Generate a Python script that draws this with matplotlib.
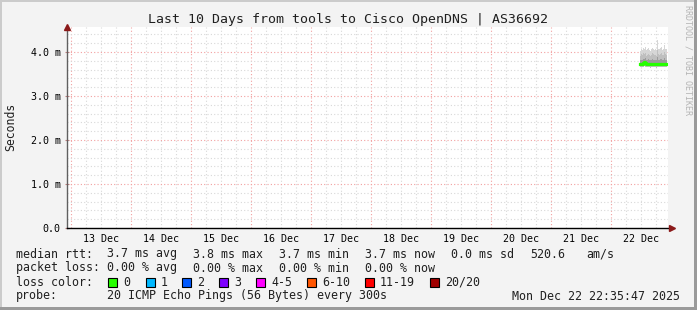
import datetime as dt
import numpy as np
import matplotlib
matplotlib.use("Agg")
import matplotlib.pyplot as plt
from matplotlib.patches import Rectangle

plt.rcParams["font.family"] = "DejaVu Sans Mono"

# time range of the graph
t_start = dt.datetime(2025, 12, 12, 22, 35, 47)
t_end = dt.datetime(2025, 12, 22, 22, 35, 47)

# smoke columns (23 min each), values in ms
col_start = dt.datetime(2025, 12, 22, 11, 36)
col_minutes = 23
rtt_max = [4.02, 4.08, 4.05, 4.10, 4.06, 4.12, 4.04, 4.07, 4.09, 4.05, 4.03, 4.06, 4.10, 4.08,
           4.05, 4.07, 4.04, 4.28, 4.08, 4.06, 4.09, 4.12, 4.05, 4.07, 4.06, 4.15, 4.08, 4.06]
rtt_p85 = [3.92, 3.95, 3.93, 3.97, 3.95, 3.98, 3.92, 3.94, 3.96, 3.93, 3.91, 3.94, 3.97, 3.95,
           3.93, 3.94, 3.92, 4.05, 3.95, 3.93, 3.96, 3.98, 3.93, 3.94, 3.93, 4.00, 3.95, 3.93]
rtt_p65 = [3.81, 3.83, 3.82, 3.85, 3.85, 3.86, 3.82, 3.82, 3.84, 3.82, 3.81, 3.82, 3.84, 3.83,
           3.82, 3.82, 3.81, 3.88, 3.83, 3.82, 3.84, 3.85, 3.82, 3.82, 3.82, 3.86, 3.83, 3.82]
rtt_median = [3.72, 3.73, 3.73, 3.76, 3.77, 3.76, 3.74, 3.73, 3.73, 3.72, 3.73, 3.73, 3.72, 3.73,
              3.73, 3.72, 3.73, 3.73, 3.72, 3.73, 3.73, 3.72, 3.73, 3.72, 3.73, 3.73, 3.72, 3.73]
rtt_p35 = [3.70, 3.70, 3.70, 3.72, 3.73, 3.72, 3.71, 3.70, 3.70, 3.70, 3.70, 3.70, 3.70, 3.70,
           3.70, 3.70, 3.70, 3.70, 3.70, 3.70, 3.70, 3.70, 3.70, 3.70, 3.70, 3.70, 3.70, 3.70]
rtt_min = [3.65, 3.66, 3.65, 3.67, 3.68, 3.66, 3.65, 3.65, 3.66, 3.65, 3.64, 3.65, 3.66, 3.65,
           3.65, 3.65, 3.64, 3.66, 3.65, 3.65, 3.66, 3.65, 3.65, 3.65, 3.64, 3.66, 3.65, 3.65]

y_ticks = [0.0, 1.0, 2.0, 3.0, 4.0]
y_tick_labels = ["0.0", "1.0 m", "2.0 m", "3.0 m", "4.0 m"]
day_labels = ["13 Dec", "14 Dec", "15 Dec", "16 Dec", "17 Dec",
              "18 Dec", "19 Dec", "20 Dec", "21 Dec", "22 Dec"]

loss_labels = ["0", "1", "2", "3", "4-5", "6-10", "11-19", "20/20"]
loss_colors = ["#26ff00", "#00b8ff", "#0059ff", "#7e00ff", "#ff00ff", "#ff5500", "#ff0000", "#a00000"]

title = "Last 10 Days from tools to Cisco OpenDNS | AS36692"

W, H = 697, 310
fig = plt.figure(figsize=(W / 100, H / 100), dpi=100)
fig.patch.set_facecolor("#f3f3f3")

def px(x, y):
    return x / W, 1 - y / H

# plot area
left, right, top, bottom = 67, 668, 27, 228
ax = fig.add_axes([left / W, 1 - bottom / H, (right - left) / W, (bottom - top) / H])
ax.set_facecolor("white")
ax.set_xlim(t_start, t_end)
ax.set_ylim(0, 4.57e-3)
for s in ax.spines.values():
    s.set_visible(False)

# grid
dot = (0, (1, 2))
day0 = dt.datetime(2025, 12, 13)
t = dt.datetime(2025, 12, 12, 0)
while t < t_end:
    if t > t_start:
        major = t.hour == 0
        ax.axvline(t, color="#f2a0a0" if major else "#d8d8d8", lw=0.8, ls=dot, zorder=1)
    t += dt.timedelta(hours=6)
for v in np.arange(0.2, 4.57, 0.2):
    v = round(v, 1)
    major = abs(v - round(v)) < 1e-6
    ax.axhline(v * 1e-3, color="#f2a0a0" if major else "#d8d8d8", lw=0.8, ls=dot, zorder=1)

# smoke
times = [col_start + dt.timedelta(minutes=col_minutes * i) for i in range(len(rtt_median) + 1)]
def ext(a):
    return np.array(a + [a[-1]]) * 1e-3
ax.fill_between(times, ext(rtt_min), ext(rtt_max), step="post", color="#d6d6d6", lw=0, zorder=2)
ax.fill_between(times, ext(rtt_min), ext(rtt_p85), step="post", color="#bfbfbf", lw=0, zorder=3)
ax.fill_between(times, ext(rtt_p35), ext(rtt_p65), step="post", color="#9c9c9c", lw=0, zorder=4)
ax.step(times, ext(rtt_median), where="post", color=loss_colors[0], lw=2.3, zorder=5)

# ticks
ax.set_yticks([v * 1e-3 for v in y_ticks])
ax.set_yticklabels(y_tick_labels)
ax.tick_params(axis="y", length=3, width=0.8, color="#c08080", labelsize=7.2, pad=3, direction="inout")
ax.set_xticks([day0 + dt.timedelta(days=i, hours=12) for i in range(10)])
ax.set_xticklabels(day_labels)
ax.tick_params(axis="x", length=0, labelsize=7.2, pad=4)

# axes lines with arrows
ax.plot([0, 0], [0, 1.0], transform=ax.transAxes, color="#606060", lw=1, clip_on=False, zorder=6)
ax.plot([0, 1.004], [0, 0], transform=ax.transAxes, color="black", lw=1, clip_on=False, zorder=6)
ax.plot([0], [1.0], transform=ax.transAxes, marker="^", ms=4, color="#8b1a1a", clip_on=False, zorder=7)
ax.plot([1.006], [0], transform=ax.transAxes, marker=">", ms=4, color="#8b1a1a", clip_on=False, zorder=7)

# title and labels
fig.text(*px(348, 20), title, ha="center", va="center", fontsize=9.5, color="#202020")
fig.text(*px(11, 127), "Seconds", rotation=90, ha="center", va="center", fontsize=8.3, color="#202020")
fig.text(*px(688, 5), "RRDTOOL / TOBI OETIKER", rotation=270, ha="center", va="top",
         fontsize=6.0, color="#b4b4b4")

# legend
fs = 8.4
col_x = [107, 193, 279, 365, 451, 530, 586]
rows_y = [254, 268, 282, 296]
tc = "#202020"
fig.text(*px(16, rows_y[0]), "median rtt:", va="center", fontsize=fs, color=tc)
rtt_items = ["3.7 ms avg", "3.8 ms max", "3.7 ms min", "3.7 ms now", "0.0 ms sd", "520.6", "am/s"]
for x, s in zip(col_x, rtt_items):
    fig.text(*px(x, rows_y[0]), s, va="center", fontsize=fs, color=tc)
fig.text(*px(16, rows_y[1]), "packet loss:", va="center", fontsize=fs, color=tc)
loss_items = ["0.00 % avg", "0.00 % max", "0.00 % min", "0.00 % now"]
for x, s in zip(col_x, loss_items):
    fig.text(*px(x, rows_y[1]), s, va="center", fontsize=fs, color=tc)
fig.text(*px(16, rows_y[2]), "loss color:", va="center", fontsize=fs, color=tc)
box_x = [108, 146, 182, 219, 256, 307, 365, 430]
for x, lab, c in zip(box_x, loss_labels, loss_colors):
    fig.patches.append(Rectangle(px(x, rows_y[2] + 4.5), 9 / W, 9 / H, transform=fig.transFigure,
                                 facecolor=c, edgecolor="black", lw=0.8))
    fig.text(*px(x + 15, rows_y[2]), lab, va="center", fontsize=fs, color=tc)
fig.text(*px(16, rows_y[3]), "probe:", va="center", fontsize=fs, color=tc)
fig.text(*px(107, rows_y[3]), "20 ICMP Echo Pings (56 Bytes) every 300s", va="center", fontsize=fs, color=tc)
fig.text(*px(680, rows_y[3]), "Mon Dec 22 22:35:47 2025", ha="right", va="center", fontsize=fs, color=tc)

# 3d frame
fig.patches.append(Rectangle((0, 1 - 2 / H), 1, 2 / H, transform=fig.transFigure, facecolor="#cbcbcb", lw=0))
fig.patches.append(Rectangle((0, 0), 2 / W, 1, transform=fig.transFigure, facecolor="#cbcbcb", lw=0))
fig.patches.append(Rectangle((1 - 3 / W, 0), 3 / W, 1, transform=fig.transFigure, facecolor="#9a9a9a", lw=0))
fig.patches.append(Rectangle((0, 0), 1, 3 / H, transform=fig.transFigure, facecolor="#9a9a9a", lw=0))

fig.savefig("out.png", dpi=100, facecolor=fig.get_facecolor())
